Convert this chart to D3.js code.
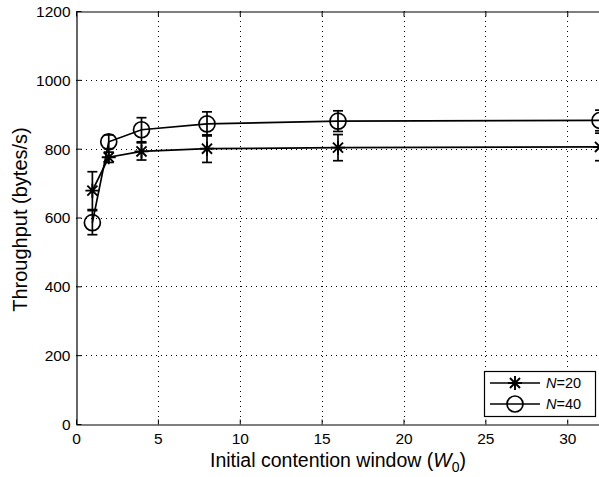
<!DOCTYPE html>
<html>
<head>
<meta charset="utf-8">
<script src="https://cdn.jsdelivr.net/npm/d3@7"></script>
<style>
  body { margin: 0; background: #fff; }
  svg { display: block; font-family: "Liberation Sans", Arial, sans-serif; }
</style>
</head>
<body>
<div id="chart"></div>
<script>
// initial contention window values
const W0 = [1, 2, 4, 8, 16, 32];
// throughput, N=20
const N20 = [678, 775, 792, 800, 803, 805];
const N20_ERR = [55, 15, 25, 40, 38, 40];
// throughput, N=40
const N40 = [585, 820, 855, 872, 880, 882];
const N40_ERR = [35, 20, 35, 35, 30, 30];

const X_TICKS = [0, 5, 10, 15, 20, 25, 30];
const Y_TICKS = [0, 200, 400, 600, 800, 1000, 1200];

const w = 599, h = 477;
const m = { left: 76, top: 11, right: 600, bottom: 424 };
const FONT = '"Liberation Sans", Arial, sans-serif';

const svg = d3.select('#chart').append('svg')
  .attr('width', w).attr('height', h);

const x = d3.scaleLinear().domain([0, 32]).range([m.left, m.right]);
const y = d3.scaleLinear().domain([0, 1200]).range([m.bottom, m.top]);

// dotted grid
const grid = svg.append('g')
  .attr('stroke', '#000').attr('stroke-width', 1)
  .attr('stroke-dasharray', '1,4');
grid.selectAll('line.gx')
  .data(X_TICKS.filter(d => d > 0))
  .join('line')
  .attr('x1', d => Math.round(x(d)) + 0.5).attr('x2', d => Math.round(x(d)) + 0.5)
  .attr('y1', m.top).attr('y2', m.bottom);
grid.selectAll('line.gy')
  .data(Y_TICKS.filter(d => d > 0 && d < 1200))
  .join('line')
  .attr('y1', d => Math.round(y(d)) + 0.5).attr('y2', d => Math.round(y(d)) + 0.5)
  .attr('x1', m.left).attr('x2', m.right);

// axes, MATLAB style ticks inward
const fmt = d3.format('d');
const xAxis = svg.append('g')
  .attr('transform', `translate(0,${m.bottom + 0.5})`)
  .call(d3.axisBottom(x).tickValues(X_TICKS).tickFormat(fmt)
    .tickSizeInner(-5).tickSizeOuter(0).tickPadding(8));
const xTop = svg.append('g')
  .attr('transform', `translate(0,${m.top + 0.5})`)
  .call(d3.axisTop(x).tickValues(X_TICKS).tickSizeInner(-5).tickSizeOuter(0).tickFormat(''));
const yAxis = svg.append('g')
  .attr('transform', `translate(${m.left + 0.5},0)`)
  .call(d3.axisLeft(y).tickValues(Y_TICKS).tickFormat(fmt)
    .tickSizeInner(-5).tickSizeOuter(0).tickPadding(6));

[xAxis, xTop, yAxis].forEach(g => {
  g.select('.domain').attr('stroke', '#000').attr('stroke-width', 1.2);
  g.selectAll('.tick line').attr('stroke', '#000');
  g.selectAll('text').attr('font-size', 15.5).attr('fill', '#000')
    .attr('font-family', FONT);
});
yAxis.selectAll('.tick text').attr('dy', '0.35em');

// axis titles
const xl = svg.append('text')
  .attr('x', (m.left + m.right) / 2).attr('y', 467)
  .attr('text-anchor', 'middle').attr('font-size', 19.5);
xl.append('tspan').text('Initial contention window (');
xl.append('tspan').attr('font-style', 'italic').text('W');
xl.append('tspan').attr('font-size', 14).attr('dy', 5).text('0');
xl.append('tspan').attr('dy', -5).text(')');

svg.append('text')
  .attr('transform', `translate(27,${(m.top + m.bottom) / 2 + 2}) rotate(-90)`)
  .attr('text-anchor', 'middle').attr('font-size', 20)
  .text('Throughput (bytes/s)');

// series
const series = [
  { name: '20', vals: N20, err: N20_ERR, marker: 'star' },
  { name: '40', vals: N40, err: N40_ERR, marker: 'circle' },
];

const line = d3.line().x(d => x(d[0])).y(d => y(d[1]));

function drawMarker(g, type, cx, cy) {
  if (type === 'circle') {
    g.append('circle').attr('cx', cx).attr('cy', cy).attr('r', 8)
      .attr('fill', 'none').attr('stroke', '#000').attr('stroke-width', 1.7);
  } else {
    const s = 7;
    const path = d3.path();
    path.moveTo(cx - s, cy); path.lineTo(cx + s, cy);
    path.moveTo(cx, cy - s); path.lineTo(cx, cy + s);
    const d = s * 0.72;
    path.moveTo(cx - d, cy - d); path.lineTo(cx + d, cy + d);
    path.moveTo(cx - d, cy + d); path.lineTo(cx + d, cy - d);
    g.append('path').attr('d', path.toString())
      .attr('fill', 'none').attr('stroke', '#000').attr('stroke-width', 1.9);
  }
}

const plot = svg.append('g');
series.forEach(s => {
  const pts = W0.map((w0, i) => [w0, s.vals[i]]);
  plot.append('path')
    .attr('d', line(pts))
    .attr('fill', 'none').attr('stroke', '#000').attr('stroke-width', 1.7);

  // error bars
  W0.forEach((w0, i) => {
    const cx = x(w0);
    const y1 = y(s.vals[i] - s.err[i]), y2 = y(s.vals[i] + s.err[i]);
    const eb = plot.append('g').attr('stroke', '#000').attr('stroke-width', 1.7);
    eb.append('line').attr('x1', cx).attr('x2', cx).attr('y1', y1).attr('y2', y2);
    eb.append('line').attr('x1', cx - 5).attr('x2', cx + 5).attr('y1', y1).attr('y2', y1);
    eb.append('line').attr('x1', cx - 5).attr('x2', cx + 5).attr('y1', y2).attr('y2', y2);
    drawMarker(plot, s.marker, cx, y(s.vals[i]));
  });
});

// legend
const lg = svg.append('g');
lg.append('rect')
  .attr('x', 484.5).attr('y', 371.5).attr('width', 111).attr('height', 45)
  .attr('fill', '#fff').attr('stroke', '#000').attr('stroke-width', 1.2);
series.forEach((s, i) => {
  const ly = 383 + i * 21;
  lg.append('line').attr('x1', 490).attr('x2', 540).attr('y1', ly).attr('y2', ly)
    .attr('stroke', '#000').attr('stroke-width', 1.7);
  drawMarker(lg, s.marker, 515, ly);
  const t = lg.append('text').attr('x', 546).attr('y', ly + 5).attr('font-size', 14.5);
  t.append('tspan').attr('font-style', 'italic').text('N');
  t.append('tspan').text('=' + s.name);
});
</script>
</body>
</html>
